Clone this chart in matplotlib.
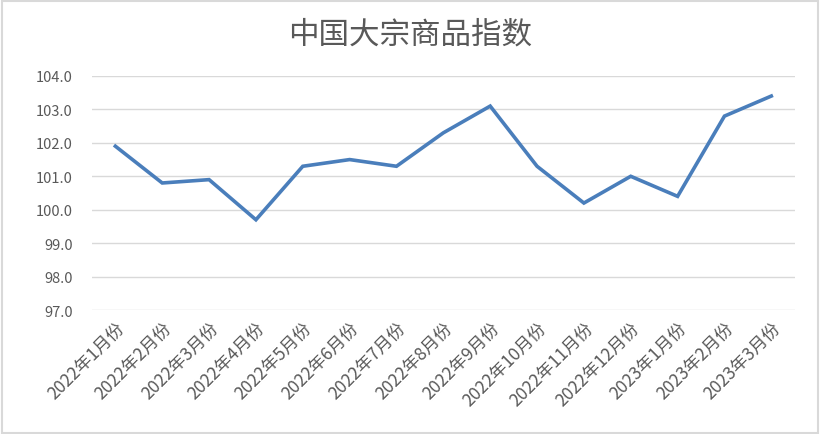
import matplotlib.pyplot as plt

plt.rcParams['font.family'] = ['Noto Sans CJK SC', 'DejaVu Sans']

months = ["2022年1月份", "2022年2月份", "2022年3月份", "2022年4月份", "2022年5月份",
          "2022年6月份", "2022年7月份", "2022年8月份", "2022年9月份", "2022年10月份",
          "2022年11月份", "2022年12月份", "2023年1月份", "2023年2月份", "2023年3月份"]
index_values = [101.9, 100.8, 100.9, 99.7, 101.3, 101.5, 101.3, 102.3, 103.1,
                101.3, 100.2, 101.0, 100.4, 102.8, 103.4]
y_ticks = [97.0, 98.0, 99.0, 100.0, 101.0, 102.0, 103.0, 104.0]

fig = plt.figure(figsize=(8.21, 4.35), dpi=100)
ax = fig.add_axes([0.112, 0.285, 0.856, 0.538])

x = range(len(months))
ax.plot(x, index_values, color="#4a7ebb", linewidth=2.6, solid_joinstyle="miter")

ax.set_xlim(-0.5, len(months) - 0.5)
ax.set_ylim(97.0, 104.0)
ax.set_yticks(y_ticks)
ax.set_yticklabels([f"{v:.1f}" for v in y_ticks])
ax.grid(axis="y", color="#d9d9d9", linewidth=1)
ax.set_axisbelow(True)

ax.set_xticks(list(x))
ax.set_xticklabels(months, rotation=45, ha="right", rotation_mode="anchor", fontsize=12.5)

for s in ax.spines.values():
    s.set_visible(False)
ax.tick_params(axis="both", length=0, colors="#595959")
ax.tick_params(axis="y", labelsize=10.5, pad=14)
ax.tick_params(axis="x", pad=6)

fig.text(0.5, 0.92, "中国大宗商品指数", ha="center", va="center",
         fontsize=22, color="#595959")

fig.patches.append(plt.Rectangle((0.003, 0.003), 0.993, 0.993, transform=fig.transFigure,
                                 fill=False, edgecolor="#d9d9d9", linewidth=1.5))

fig.savefig("out.png", dpi=100)
